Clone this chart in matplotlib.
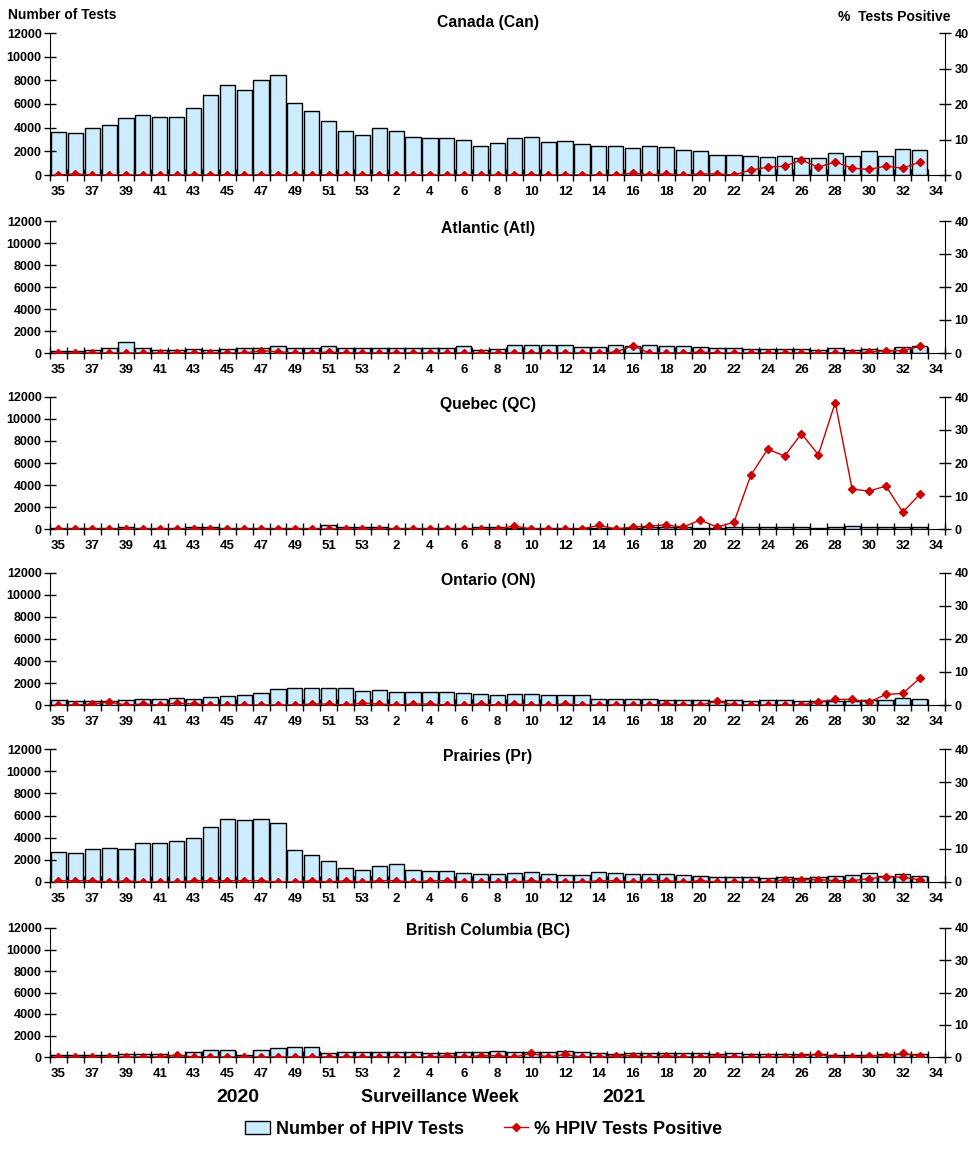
import numpy as np
import matplotlib
matplotlib.use("Agg")
import matplotlib.pyplot as plt
from matplotlib.patches import Patch
from matplotlib.lines import Line2D

plt.rcParams['font.family'] = ['Liberation Sans', 'DejaVu Sans']
plt.rcParams['font.weight'] = 'bold'

# surveillance weeks on the axis (week 34 has no data yet)
weeks = list(range(35, 54)) + list(range(1, 35))

regions = ["Canada (Can)", "Atlantic (Atl)", "Quebec (QC)",
           "Ontario (ON)", "Prairies (Pr)", "British Columbia (BC)"]

# number of HPIV tests, weeks 35-53 then 1-33
can_tests = [3600, 3510, 3930, 4190, 4780, 5030, 4860, 4860, 5620, 6800, 7640, 7220, 8060, 8480, 6120, 5450, 4600, 3760, 3340,
             3930, 3760, 3170, 3090, 3090, 3000, 2440, 2670, 3090, 3200, 2750, 2870, 2580, 2440, 2440, 2280, 2440, 2360, 2110, 2020,
             1690, 1690, 1600, 1520, 1600, 1430, 1430, 1850, 1600, 2020, 1600, 2190, 2110]
atl_tests = [180, 180, 270, 450, 990, 450, 270, 270, 360, 270, 360, 450, 450, 630, 450, 450, 630, 450, 450,
             450, 450, 450, 450, 450, 630, 270, 360, 720, 720, 720, 720, 540, 540, 720, 600, 720, 630, 630, 540,
             450, 450, 360, 360, 360, 360, 270, 450, 270, 360, 270, 540, 630]
qc_tests = [100, 100, 100, 100, 150, 100, 100, 100, 150, 150, 100, 100, 100, 100, 100, 100, 330, 150, 150,
            150, 100, 100, 100, 100, 100, 150, 150, 100, 100, 100, 100, 100, 100, 100, 100, 150, 150, 150, 100,
            100, 150, 150, 150, 150, 150, 100, 150, 250, 150, 150, 150, 150]
on_tests = [430, 330, 330, 330, 430, 520, 520, 610, 520, 700, 790, 880, 1060, 1430, 1520, 1520, 1520, 1520, 1250,
            1340, 1150, 1150, 1150, 1150, 1060, 970, 880, 970, 970, 880, 880, 880, 520, 520, 520, 520, 430, 430, 430,
            330, 430, 330, 430, 430, 330, 330, 330, 330, 430, 430, 610, 520]
pr_tests = [2740, 2650, 3010, 3100, 3010, 3550, 3550, 3730, 4010, 5000, 5720, 5630, 5720, 5360, 2920, 2470, 1930, 1300, 1110,
            1480, 1660, 1110, 1020, 1020, 840, 750, 750, 840, 930, 750, 660, 660, 930, 840, 750, 750, 750, 660, 570,
            480, 480, 480, 390, 480, 390, 480, 570, 660, 840, 570, 750, 570]
bc_tests = [190, 190, 190, 190, 280, 280, 280, 190, 500, 690, 690, 190, 690, 870, 970, 970, 400, 500, 500,
            500, 500, 500, 400, 400, 500, 500, 590, 500, 500, 500, 590, 500, 400, 310, 400, 400, 400, 400, 400,
            310, 400, 310, 310, 310, 310, 310, 220, 220, 220, 310, 310, 310]

# % HPIV tests positive
can_pct = [0, 0.3, 0, 0, 0, 0, 0, 0, 0, 0, 0, 0, 0, 0, 0, 0, 0, 0, 0,
           0, 0, 0, 0, 0, 0, 0, 0, 0, 0, 0, 0, 0, 0, 0, 0.5, 0.1, 0.3, 0, 0.3,
           0.3, 0, 1.4, 2.2, 2.5, 4.2, 2.2, 3.7, 1.9, 1.6, 2.5, 1.9, 3.6]
atl_pct = [0, 0, 0, 0, 0, 0, 0, 0, 0, 0, 0, 0, 0.7, 0.4, 0, 0, 0.3, 0, 0,
           0, 0, 0, 0, 0, 0, 0, 0, 0, 0, 0, 0, 0, 0, 0.3, 2.2, 0, 0, 0, 0.3,
           0, 0, 0, 0, 0, 0, 0, 0, 0, 0.3, 0.7, 0.7, 2.0]
qc_pct = [0, 0, 0, 0, 0, 0, 0, 0, 0, 0, 0, 0, 0, 0, 0, 0, 0, 0, 0,
          0, 0, 0, 0, 0, 0, 0, 0, 0.9, 0, 0, 0, 0, 1.1, 0, 0.6, 0.9, 1.2, 0.6, 2.7,
          0.6, 2.0, 16.3, 24.2, 22.1, 28.9, 22.5, 38.3, 12.1, 11.5, 13.0, 5.1, 10.5]
on_pct = [0, 0, 0.3, 0.9, 0, 0.3, 0, 0.6, 0.3, 0, 0, 0, 0, 0, 0, 0.3, 0.3, 0, 0.6,
          0.3, 0, 0.3, 0.3, 0, 0, 0.3, 0, 0.3, 0, 0, 0.3, 0, 0, 0, 0, 0, 0.3, 0, 0,
          1.1, 0, 0, 0, 0, 0, 0.9, 1.7, 1.7, 0.9, 3.2, 3.5, 8.1]
pr_pct = [0.4, 0.4, 0.4, 0, 0.4, 0, 0, 0, 0.4, 0.4, 0.4, 0.4, 0.4, 0, 0, 0.4, 0, 0.4, 0,
          0.4, 0.4, 0, 0.4, 0.4, 0, 0, 0, 0, 0.4, 0, 0, 0, 0.4, 0.4, 0, 0.4, 0.4, 0, 0.4,
          0, 0, 0, 0, 0.7, 0.7, 0.7, 0.4, 0.4, 1.0, 1.6, 1.4, 0.7]
bc_pct = [0, 0, 0, 0, 0, 0, 0, 0.6, 0, 0, 0, 0, 0, 0, 0, 0, 0, 0, 0,
          0, 0, 0, 0, 0.4, 0, 0.4, 0.4, 0, 1.1, 0, 0.8, 0, 0, 0.4, 0.4, 0, 0.4, 0, 0,
          0.4, 0, 0, 0, 0, 0.4, 0.8, 0, 0, 0.4, 0.4, 1.1, 0.4]

tests = [can_tests, atl_tests, qc_tests, on_tests, pr_tests, bc_tests]
pct = [can_pct, atl_pct, qc_pct, on_pct, pr_pct, bc_pct]

BAR_COLOR = '#CCECFF'
LINE_COLOR = '#CC0000'
W, H = 976, 1152

# panel top/bottom in pixels and title heights
panel_px = [(33, 175), (221, 353), (397, 529), (573, 705), (749, 882), (928, 1057)]
title_px = [23, 228, 404, 580, 756, 931]
left_px, right_px = 50, 945

fig = plt.figure(figsize=(W / 100, H / 100), dpi=100)

x = np.arange(len(can_tests))
n_cat = len(weeks)

for i in range(len(regions)):
    top, bot = panel_px[i]
    ax = fig.add_axes([left_px / W, 1 - bot / H, (right_px - left_px) / W, (bot - top) / H])
    ax.bar(x, tests[i], width=0.9, color=BAR_COLOR, edgecolor='black', linewidth=1)
    ax.set_xlim(-0.5, n_cat - 0.5)
    ax.set_ylim(0, 12000)
    ax.set_yticks(range(0, 12001, 2000))
    ax.set_xticks(range(0, n_cat, 2))
    ax.set_xticklabels([str(weeks[k]) for k in range(0, n_cat, 2)])
    ax.set_xticks(np.arange(-0.5, n_cat, 1), minor=True)
    ax.tick_params(axis='x', which='major', length=0, labelsize=9.5, pad=8)
    ax.tick_params(axis='x', which='minor', direction='inout', length=8, width=1)
    ax.tick_params(axis='y', direction='inout', length=8, width=1, labelsize=9, pad=2)
    ax.spines['top'].set_visible(False)
    ax.spines['right'].set_visible(False)

    ax2 = ax.twinx()
    ax2.plot(x, pct[i], color=LINE_COLOR, marker='D', markersize=4.5, linewidth=1)
    ax2.set_ylim(0, 40)
    ax2.set_yticks(range(0, 41, 10))
    ax2.tick_params(axis='y', direction='inout', length=8, width=1, labelsize=9, pad=3)
    for s in ['top', 'left', 'bottom']:
        ax2.spines[s].set_visible(False)

    fig.text(488 / W, 1 - title_px[i] / H, regions[i], ha='center', va='center', fontsize=11.3)

fig.text(8 / W, 1 - 15 / H, "Number of Tests", ha='left', va='center', fontsize=10)
fig.text(950 / W, 1 - 17 / H, "%  Tests Positive", ha='right', va='center', fontsize=10)

fig.text(238 / W, 1 - 1097 / H, "2020", ha='center', va='center', fontsize=14)
fig.text(440 / W, 1 - 1097 / H, "Surveillance Week", ha='center', va='center', fontsize=13)
fig.text(624 / W, 1 - 1097 / H, "2021", ha='center', va='center', fontsize=14)

handles = [Patch(facecolor=BAR_COLOR, edgecolor='black', linewidth=1),
           Line2D([], [], color=LINE_COLOR, marker='D', markersize=4.5, linewidth=1)]
fig.legend(handles, ["Number of HPIV Tests", "% HPIV Tests Positive"], loc='center',
           bbox_to_anchor=(484 / W, 1 - 1129 / H), ncol=2, frameon=False, fontsize=13,
           columnspacing=2.2, handlelength=1.35, handletextpad=0.35)

fig.savefig("out.png", dpi=100)
